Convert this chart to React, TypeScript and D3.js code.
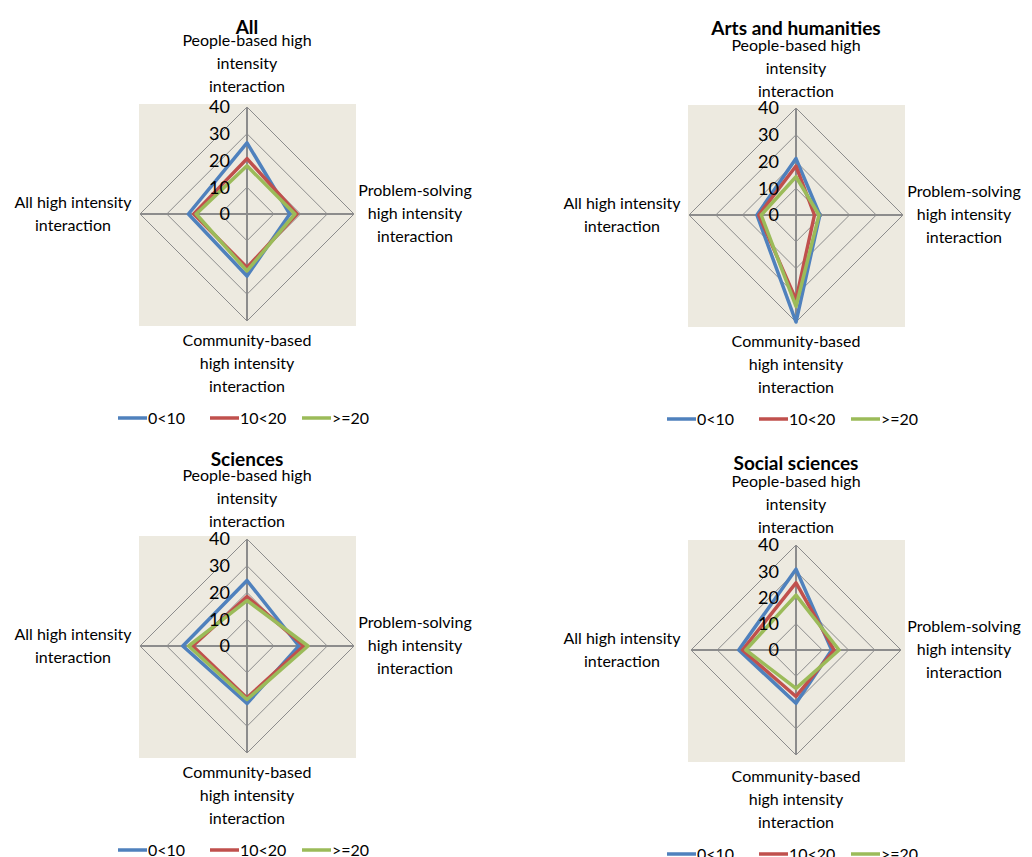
import React from "react";
import * as d3 from "d3";

const categories = [
  ["People-based high", "intensity", "interaction"],
  ["Problem-solving", "high intensity", "interaction"],
  ["Community-based", "high intensity", "interaction"],
  ["All high intensity", "interaction"],
];
const seriesNames = ["0<10", "10<20", ">=20"];
const seriesColors = ["#4F81BD", "#C0504D", "#9BBB59"];
const ticks = [0, 10, 20, 30, 40];

const allValues = [
  [26.6, 16, 23.2, 21.9],
  [20.7, 18.7, 20, 19.9],
  [18, 17.9, 21.3, 19],
];
const artsValues = [
  [21.1, 8.9, 40, 14.6],
  [18.3, 6.9, 31.7, 13.9],
  [14.3, 8.6, 34.2, 13],
];
const sciencesValues = [
  [24.5, 19.4, 21.5, 24],
  [18.5, 21.2, 19.4, 20.3],
  [17, 22.8, 20, 21.8],
];
const socialValues = [
  [30.8, 13.6, 20.3, 21.8],
  [25.6, 14.5, 17.7, 20.4],
  [20.9, 16.4, 14.6, 19.1],
];

const panels = [
  { title: "All", values: allValues, cx: 247, cy: 214, r: 107, topY: -174 },
  { title: "Arts and humanities", values: artsValues, cx: 796, cy: 215, r: 107, topY: -170 },
  { title: "Sciences", values: sciencesValues, cx: 247, cy: 646, r: 107, topY: -171 },
  { title: "Social sciences", values: socialValues, cx: 796, cy: 650, r: 105, topY: -169 },
];

const FONT = "Lato, 'Open Sans', sans-serif";

function Radar({ title, values, cx, cy, r, topY }: any) {
  const rScale = d3.scaleLinear().domain([0, 40]).range([0, r]);
  const angle = d3
    .scaleBand<number>()
    .domain(d3.range(categories.length))
    .range([0, 2 * Math.PI])
    .align(0)
    .paddingInner(0);
  const line = d3
    .lineRadial<number>()
    .angle((_, i) => angle(i)!)
    .radius((d) => rScale(d))
    .curve(d3.curveLinearClosed);

  // label anchor offsets for each axis (relative to centre)
  const labelPos = [
    { x: 0, y: topY },
    { x: 168, y: -24 },
    { x: 0, y: 126 },
    { x: -174, y: -12 },
  ];

  return (
    <g transform={`translate(${cx},${cy})`} fontFamily={FONT}>
      <rect x={-108} y={-110} width={217} height={222} fill="#EDEAE0" />
      {ticks.slice(1).map((t) => (
        <path
          key={t}
          d={line(categories.map(() => t)) || ""}
          fill="none"
          stroke="#8C8C8C"
          strokeWidth={1}
        />
      ))}
      {categories.map((_, i) => {
        const a = angle(i)!;
        return (
          <line
            key={i}
            x1={0}
            y1={0}
            x2={rScale(40) * Math.sin(a)}
            y2={-rScale(40) * Math.cos(a)}
            stroke="#8C8C8C"
            strokeWidth={2}
          />
        );
      })}
      {values.map((v: number[], si: number) => (
        <path
          key={si}
          d={line(v) || ""}
          fill="none"
          stroke={seriesColors[si]}
          strokeWidth={3.5}
          strokeLinejoin="round"
        />
      ))}
      {ticks.map((t) => (
        <text
          key={t}
          x={-17}
          y={-rScale(t)}
          dy="0.35em"
          textAnchor="end"
          fontSize={18}
          fill="#000"
        >
          {t}
        </text>
      ))}
      {categories.map((lines, i) => (
        <text
          key={i}
          x={labelPos[i].x}
          y={labelPos[i].y}
          textAnchor="middle"
          fontSize={16}
          fill="#000"
        >
          {lines.map((l, j) => (
            <tspan key={j} x={labelPos[i].x} dy={j === 0 ? "0.35em" : 23.3}>
              {l}
            </tspan>
          ))}
        </text>
      ))}
      <text
        x={0}
        y={-187}
        dy="0.35em"
        textAnchor="middle"
        fontSize={19}
        fontWeight="bold"
        fill="#000"
      >
        {title}
      </text>
      {seriesNames.map((s, i) => (
        <g key={s} transform={`translate(${-129 + i * 92},${204})`}>
          <line x1={0} x2={29} y1={0} y2={0} stroke={seriesColors[i]} strokeWidth={3.5} />
          <text x={30} y={0} dy="0.35em" fontSize={16} fill="#000">
            {s}
          </text>
        </g>
      ))}
    </g>
  );
}

export default function App() {
  return (
    <svg
      width={1032}
      height={857}
      style={{ position: "absolute", left: 0, top: 0, background: "#fff" }}
    >
      {panels.map((p) => (
        <Radar key={p.title} {...p} />
      ))}
    </svg>
  );
}
